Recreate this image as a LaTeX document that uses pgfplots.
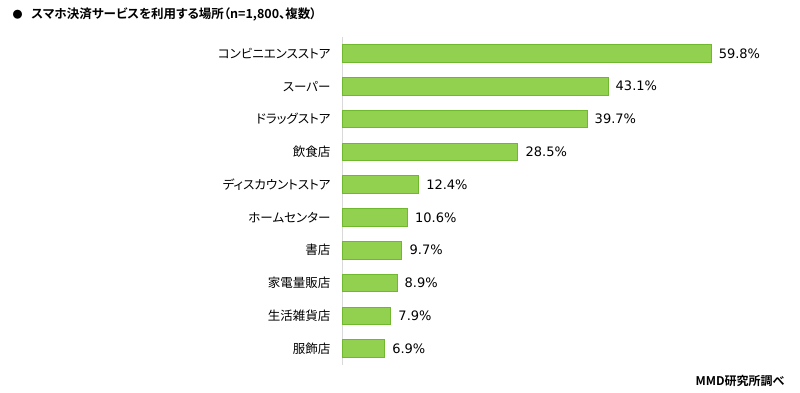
\documentclass[border=0pt]{standalone}
\usepackage{pgfplots}
\pgfplotsset{compat=1.18}
\usepackage{fontspec}
\setmainfont{Noto Sans CJK JP}[BoldFont={Noto Sans CJK JP Bold}]
\newfontfamily\palt{Noto Sans CJK JP}[BoldFont={Noto Sans CJK JP Bold},RawFeature=+palt]
\newfontfamily\numfont{DejaVu Sans}
\definecolor{barfill}{RGB}{146,208,80}
\definecolor{baredge}{RGB}{112,184,46}
\definecolor{axgray}{RGB}{217,217,217}
\begin{document}
\begin{tikzpicture}[x=1pt,y=1pt]
\path[use as bounding box] (0,0) rectangle (800,393);
\begin{axis}[
  at={(342pt,28pt)}, anchor=south west,
  scale only axis, width=432pt, height=328pt,
  xbar, xmin=0, xmax=70, ymin=-0.5, ymax=9.5, y dir=reverse,
  bar width=17.5pt,
  axis x line=none, axis y line*=left,
  y axis line style={axgray, line width=0.8pt},
  major tick length=0pt,
  ytick={0,...,9},
  yticklabels={コンビニエンスストア,スーパー,ドラッグストア,飲食店,ディスカウントストア,ホームセンター,書店,家電量販店,生活雑貨店,服飾店},
  yticklabel style={font=\palt\fontsize{12.5}{15}\selectfont, xshift=-8pt},
  /pgf/number format/assume math mode=true,
  point meta=x,
  nodes near coords={\pgfmathprintnumber[fixed,fixed zerofill,precision=1,assume math mode=true]{\pgfplotspointmeta}\%},
  nodes near coords style={anchor=west, xshift=4pt, font=\numfont\fontsize{13}{15}\selectfont, text=black},
]
\addplot[fill=barfill, draw=baredge, line width=0.8pt] coordinates {
(59.8,0) (43.1,1) (39.7,2) (28.5,3) (12.4,4) (10.6,5) (9.7,6) (8.9,7) (7.9,8) (6.9,9)};
\end{axis}
\node[anchor=west, font=\palt\bfseries\fontsize{12.5}{14}\selectfont] at (9,379) {{\fontsize{10}{12}\selectfont ●}\hspace{9pt}スマホ決済サービスを利用する場所（n=1,800、複数）};
\node[anchor=east, font=\palt\bfseries\fontsize{12}{14}\selectfont] at (788,12) {MMD研究所調べ};
\end{tikzpicture}
\end{document}
